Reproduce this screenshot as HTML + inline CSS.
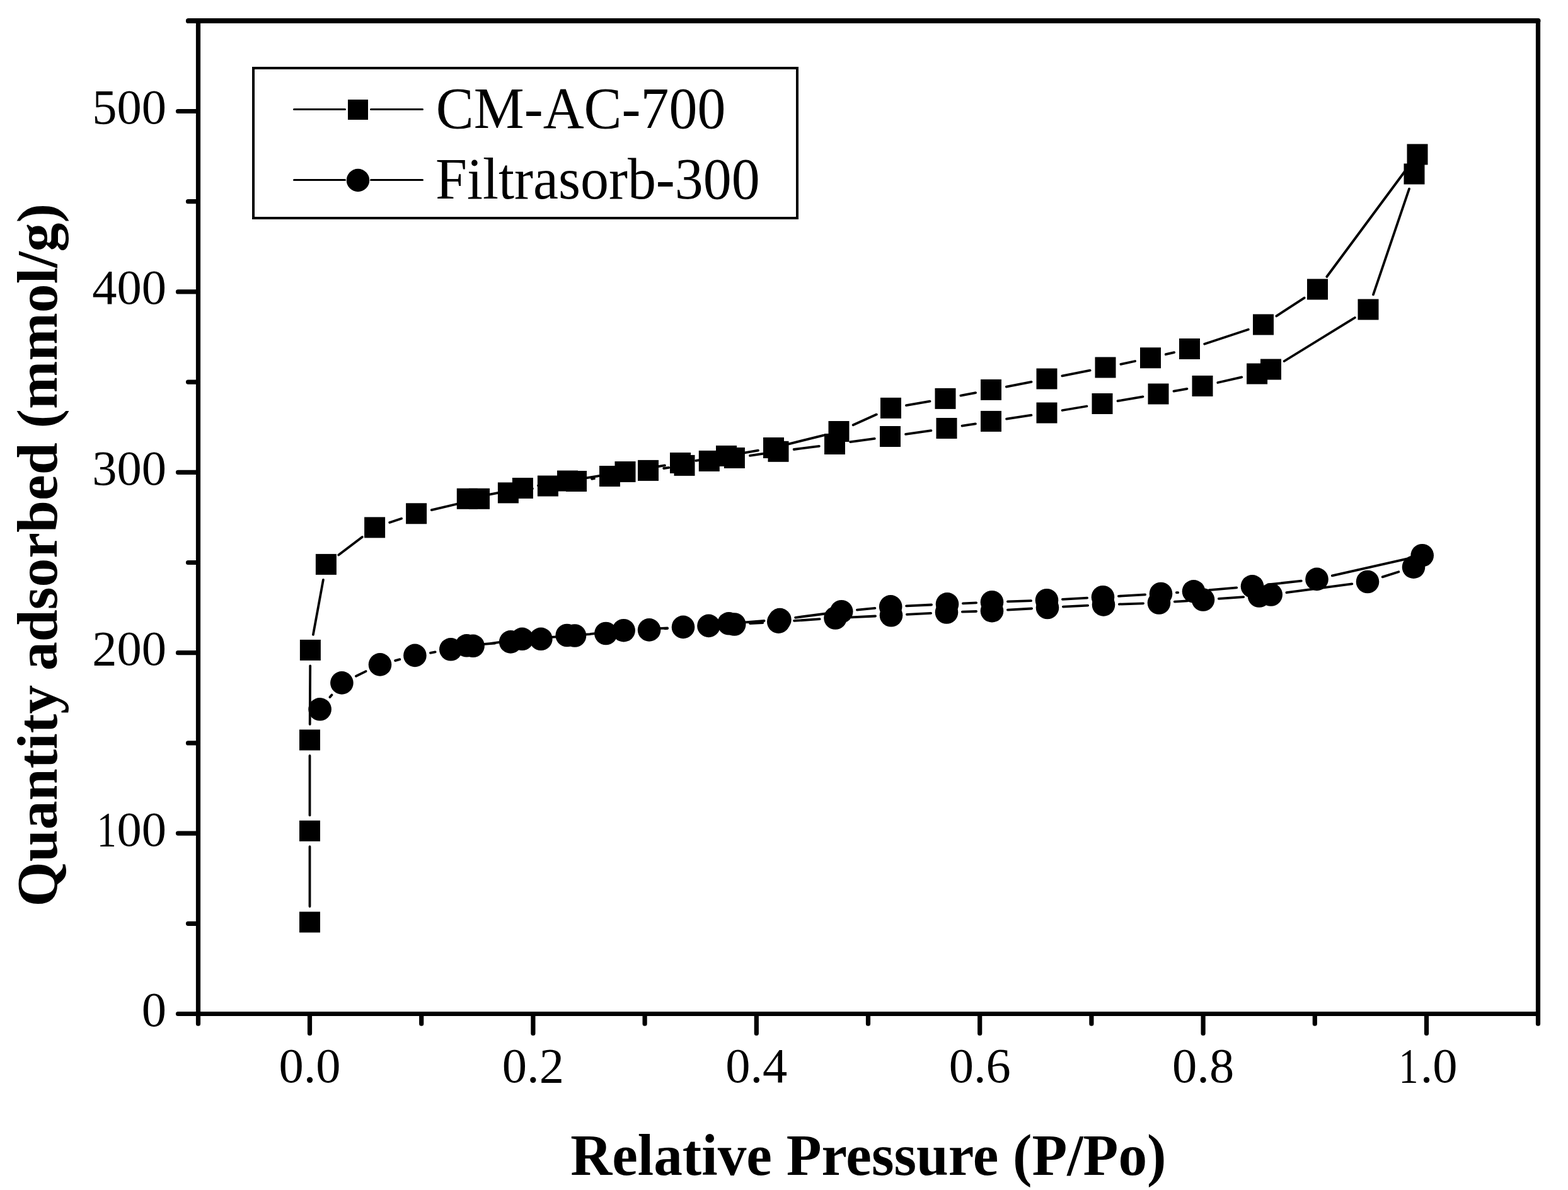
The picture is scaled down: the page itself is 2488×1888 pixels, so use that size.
<!DOCTYPE html><html><head><meta charset="utf-8"><title>Isotherm</title><style>html,body{margin:0;padding:0;background:#fff;overflow:hidden}svg{display:block}</style></head><body><svg width="2488" height="1888" viewBox="0 0 2488 1888"><rect width="2488" height="1888" fill="#fff"/><path d="M299 33H2440.5" stroke="#000" stroke-width="8" fill="none" stroke-linecap="round"/><path d="M314.5 33V1624.2M2440.5 33V1624.2M282.5 1608.5H2440.5M282.5 1322.1H314.5M282.5 1035.7H314.5M282.5 749.3H314.5M282.5 462.9H314.5M282.5 176.5H314.5M298.5 1465.3H314.5M298.5 1178.9H314.5M298.5 892.5H314.5M298.5 606.1H314.5M298.5 319.7H314.5M298.5 33.3H314.5M491.5 1608.5V1639.5M845.9 1608.5V1639.5M1200.3 1608.5V1639.5M1554.7 1608.5V1639.5M1909.1 1608.5V1639.5M2263.5 1608.5V1639.5M668.7 1608.5V1624.2M1023.1 1608.5V1624.2M1377.5 1608.5V1624.2M1731.9 1608.5V1624.2M2086.3 1608.5V1624.2" stroke="#000" stroke-width="7.2" fill="none" stroke-linecap="round" stroke-linejoin="round"/><g font-family="Liberation Serif, Times New Roman, serif" font-size="78.5" fill="#000"><text x="264" y="1627.9" text-anchor="end">0</text><text transform="translate(153.82 1341.5) scale(0.79 1)">1</text><text x="264" y="1341.5" text-anchor="end">00</text><text x="264" y="1055.1" text-anchor="end">200</text><text x="264" y="768.7" text-anchor="end">300</text><text x="264" y="482.3" text-anchor="end">400</text><text x="264" y="195.9" text-anchor="end">500</text><text x="491.5" y="1716.7" text-anchor="middle">0.0</text><text x="845.9" y="1716.7" text-anchor="middle">0.2</text><text x="1200.3" y="1716.7" text-anchor="middle">0.4</text><text x="1554.7" y="1716.7" text-anchor="middle">0.6</text><text x="1909.1" y="1716.7" text-anchor="middle">0.8</text><text transform="translate(2219.62 1716.7) scale(0.79 1)">1</text><text x="2253.69" y="1716.7">.0</text></g><rect x="402" y="108" width="863" height="238" fill="none" stroke="#000" stroke-width="4"/><path d="M466.5 173.5H547.5M588.5 173.5H670.5M466.5 285.5H547.5M588.5 285.5H670.5" stroke="#000" stroke-width="3" stroke-linecap="round"/><rect x="552" y="158" width="32" height="32" fill="#000"/><circle cx="568" cy="286" r="18.2" fill="#000"/><g font-family="Liberation Serif, Times New Roman, serif" font-size="92.5" fill="#000"><text x="691.8" y="202.6" textLength="459.6" lengthAdjust="spacingAndGlyphs">CM-AC-700</text><text x="691" y="314.7" textLength="514.8" lengthAdjust="spacingAndGlyphs">Filtrasorb-300</text></g><path d="M491.5 1438.1L491.5 1343.2M491.5 1293.4L491.5 1198.9M491.7 1149.1L492.2 1056.3M496.9 1006.9L512.9 919.9M537.2 880.4L574.8 851.9M618.2 829.0L637.0 822.7M684.8 809.1L736.3 797.0M830.9 777.7L844.9 775.2M939.1 759.8L942.9 759.2M992.1 751.8L1003.9 750.1M1053.2 743.0L1061.3 741.8M1190.0 722.9L1210.4 719.9M1259.7 713.0L1299.8 707.8M1349.2 701.1L1387.8 695.9M1437.1 688.9L1477.4 683.1M1526.6 675.6L1547.9 672.3M1597.1 664.7L1636.4 658.7M1685.6 651.0L1724.4 644.5M1773.5 636.2L1813.5 629.3M1862.5 620.6L1883.5 616.8M1932.3 607.0L1970.3 598.4M2037.7 573.0L2149.8 504.0M2179.0 467.4L2236.0 299.6M2234.2 265.0L2105.3 439.0M2069.6 472.6L2025.4 501.4M1980.8 522.8L1911.2 545.7M1863.2 559.1L1849.8 562.2M1801.1 573.0L1778.4 577.8M1729.6 587.7L1685.4 596.3M1636.6 605.8L1596.9 613.6M1548.1 623.1L1524.4 627.7M1475.5 636.7L1438.0 643.1M1390.8 657.6L1353.7 674.3M1306.9 690.6L1251.6 704.4M1203.0 714.7L1177.0 719.2M1127.9 727.1L1104.1 730.8M1054.9 738.4L1016.6 744.6M967.4 752.4L925.1 759.1M875.9 767.0L854.0 770.5M804.9 779.2L765.8 786.6M523.5 1106.1L526.5 1102.6M564.9 1072.7L580.5 1065.1M627.1 1048.1L634.3 1046.2M683.0 1035.8L690.7 1034.4M765.3 1022.2L785.4 1020.5M924.6 1006.8L936.5 1006.2M986.2 1003.0L1005.3 1001.4M1054.9 997.3L1059.2 997.0M1190.1 989.1L1210.4 988.0M1260.1 984.9L1300.7 982.2M1350.4 979.3L1389.1 977.5M1438.9 974.9L1477.1 972.9M1526.9 970.7L1549.1 970.0M1598.9 967.7L1637.1 965.5M1686.9 962.7L1726.1 960.7M1775.9 958.6L1814.1 957.3M1863.8 954.7L1884.2 953.3M1933.8 949.8L1973.2 947.2M2041.4 940.2L2145.3 926.3M2193.7 915.4L2219.3 907.3M2232.4 886.7L2113.8 913.4M2064.8 921.7L2011.7 927.5M1962.2 932.4L1918.8 936.2M1869.2 940.1L1866.8 940.2M1817.1 943.4L1774.9 945.8M1725.1 948.6L1685.9 950.8M1636.1 953.1L1598.9 954.3M1549.1 956.3L1527.9 957.3M1478.1 959.5L1438.1 961.3M1388.4 964.9L1360.0 967.7M1310.5 973.5L1262.1 979.8M1212.6 985.0L1181.3 987.4M1131.7 991.2L1108.8 993.0M1059.1 996.3L1014.5 998.8M964.8 1002.8L936.8 1005.9M887.2 1010.1L853.3 1012.2M803.8 1017.3L775.3 1021.3" stroke="#000" stroke-width="3.8" fill="none" stroke-linecap="round"/><g fill="#000"><rect x="475.0" y="1446.5" width="33.0" height="33.0"/><rect x="475.0" y="1301.8" width="33.0" height="33.0"/><rect x="475.0" y="1157.5" width="33.0" height="33.0"/><rect x="475.9" y="1014.9" width="33.0" height="33.0"/><rect x="500.9" y="878.9" width="33.0" height="33.0"/><rect x="578.1" y="820.4" width="33.0" height="33.0"/><rect x="644.1" y="798.3" width="33.0" height="33.0"/><rect x="724.8" y="774.8" width="33.0" height="33.0"/><rect x="744.0" y="774.8" width="33.0" height="33.0"/><rect x="789.9" y="765.4" width="33.0" height="33.0"/><rect x="812.9" y="758.0" width="33.0" height="33.0"/><rect x="852.9" y="754.5" width="33.0" height="33.0"/><rect x="884.0" y="746.5" width="33.0" height="33.0"/><rect x="898.0" y="747.0" width="33.0" height="33.0"/><rect x="951.0" y="739.0" width="33.0" height="33.0"/><rect x="975.5" y="732.0" width="33.0" height="33.0"/><rect x="1012.0" y="729.9" width="33.0" height="33.0"/><rect x="1063.0" y="718.0" width="33.0" height="33.0"/><rect x="1069.5" y="721.9" width="33.0" height="33.0"/><rect x="1108.8" y="714.9" width="33.0" height="33.0"/><rect x="1136.0" y="706.9" width="33.0" height="33.0"/><rect x="1148.9" y="710.0" width="33.0" height="33.0"/><rect x="1211.0" y="694.0" width="33.0" height="33.0"/><rect x="1218.5" y="699.8" width="33.0" height="33.0"/><rect x="1314.5" y="668.0" width="33.0" height="33.0"/><rect x="1308.0" y="688.0" width="33.0" height="33.0"/><rect x="1397.0" y="630.9" width="33.0" height="33.0"/><rect x="1396.0" y="676.0" width="33.0" height="33.0"/><rect x="1483.5" y="615.9" width="33.0" height="33.0"/><rect x="1485.5" y="663.0" width="33.0" height="33.0"/><rect x="1556.0" y="601.9" width="33.0" height="33.0"/><rect x="1556.0" y="651.9" width="33.0" height="33.0"/><rect x="1644.5" y="584.5" width="33.0" height="33.0"/><rect x="1644.5" y="638.5" width="33.0" height="33.0"/><rect x="1737.5" y="566.5" width="33.0" height="33.0"/><rect x="1732.5" y="624.0" width="33.0" height="33.0"/><rect x="1809.0" y="551.3" width="33.0" height="33.0"/><rect x="1821.5" y="608.5" width="33.0" height="33.0"/><rect x="1871.0" y="537.0" width="33.0" height="33.0"/><rect x="1891.5" y="595.9" width="33.0" height="33.0"/><rect x="1988.0" y="498.5" width="33.0" height="33.0"/><rect x="1978.1" y="576.5" width="33.0" height="33.0"/><rect x="2000.0" y="569.5" width="33.0" height="33.0"/><rect x="2074.0" y="442.5" width="33.0" height="33.0"/><rect x="2154.5" y="474.5" width="33.0" height="33.0"/><rect x="2232.5" y="228.5" width="33.0" height="33.0"/><rect x="2227.5" y="259.5" width="33.0" height="33.0"/><circle cx="507.6" cy="1125.3" r="18.3"/><circle cx="542.4" cy="1083.4" r="18.3"/><circle cx="603.0" cy="1054.4" r="18.3"/><circle cx="658.4" cy="1039.9" r="18.3"/><circle cx="715.3" cy="1030.3" r="18.3"/><circle cx="740.5" cy="1024.3" r="18.3"/><circle cx="750.6" cy="1024.8" r="18.3"/><circle cx="810.2" cy="1018.4" r="18.3"/><circle cx="828.5" cy="1013.8" r="18.3"/><circle cx="858.3" cy="1013.8" r="18.3"/><circle cx="899.7" cy="1008.0" r="18.3"/><circle cx="912.0" cy="1008.5" r="18.3"/><circle cx="961.4" cy="1005.0" r="18.3"/><circle cx="989.6" cy="1000.2" r="18.3"/><circle cx="1030.1" cy="999.4" r="18.3"/><circle cx="1084.0" cy="994.9" r="18.3"/><circle cx="1124.5" cy="992.9" r="18.3"/><circle cx="1156.5" cy="989.3" r="18.3"/><circle cx="1165.2" cy="990.5" r="18.3"/><circle cx="1237.4" cy="983.1" r="18.3"/><circle cx="1235.3" cy="986.6" r="18.3"/><circle cx="1335.2" cy="970.2" r="18.3"/><circle cx="1325.5" cy="980.5" r="18.3"/><circle cx="1413.2" cy="962.4" r="18.3"/><circle cx="1414.0" cy="976.3" r="18.3"/><circle cx="1503.0" cy="958.4" r="18.3"/><circle cx="1502.0" cy="971.5" r="18.3"/><circle cx="1574.0" cy="955.2" r="18.3"/><circle cx="1574.0" cy="969.2" r="18.3"/><circle cx="1661.0" cy="952.2" r="18.3"/><circle cx="1662.0" cy="964.0" r="18.3"/><circle cx="1750.0" cy="947.2" r="18.3"/><circle cx="1751.0" cy="959.4" r="18.3"/><circle cx="1842.0" cy="942.0" r="18.3"/><circle cx="1839.0" cy="956.5" r="18.3"/><circle cx="1894.0" cy="938.3" r="18.3"/><circle cx="1909.0" cy="951.5" r="18.3"/><circle cx="1987.0" cy="930.3" r="18.3"/><circle cx="1998.0" cy="945.5" r="18.3"/><circle cx="2016.7" cy="943.5" r="18.3"/><circle cx="2089.5" cy="918.9" r="18.3"/><circle cx="2170.0" cy="923.0" r="18.3"/><circle cx="2256.7" cy="881.2" r="18.3"/><circle cx="2243.0" cy="899.7" r="18.3"/></g><text font-family="Liberation Serif, Times New Roman, serif" font-weight="bold" font-size="93" x="905.3" y="1864" textLength="945.2" lengthAdjust="spacingAndGlyphs">Relative Pressure (P/Po)</text><text font-family="Liberation Serif, Times New Roman, serif" font-weight="bold" font-size="92" transform="translate(89.5 1438.5) rotate(-90)" x="0" y="0" textLength="1115.5" lengthAdjust="spacingAndGlyphs">Quantity adsorbed (mmol/g)</text></svg></body></html>
